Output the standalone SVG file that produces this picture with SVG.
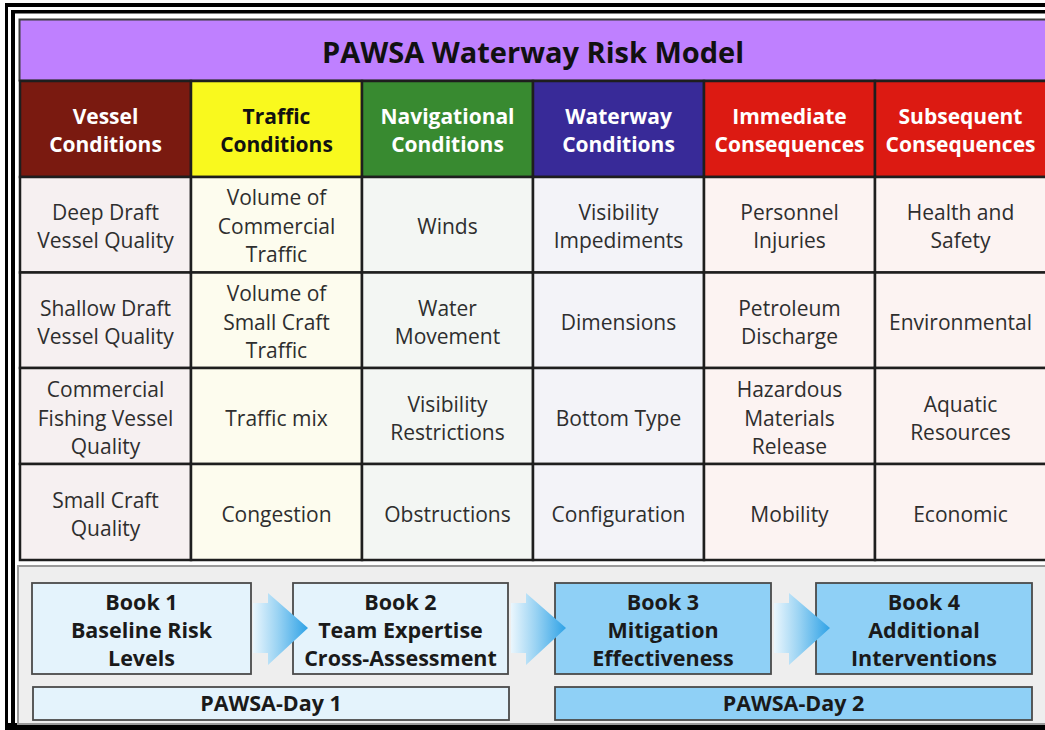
<svg xmlns="http://www.w3.org/2000/svg" width="1045" height="730" viewBox="0 0 1045 730">
<defs>
<linearGradient id="arrowGrad" x1="0" y1="0" x2="1" y2="0">
<stop offset="0" stop-color="#EAF6FD"/>
<stop offset="0.45" stop-color="#9AD3F3"/>
<stop offset="1" stop-color="#2FA2E6"/>
</linearGradient>
<style>
.hdr{stroke:#1E1E1E;stroke-width:2.5}
.cell{stroke:#1E1E1E;stroke-width:2.5}
.ht{font-family:"Open Sans","Liberation Sans",sans-serif;font-weight:bold;font-size:21px;text-anchor:middle;fill:#FFFFFF}
.htd{fill:#111111}
.bt{font-family:"Open Sans","Liberation Sans",sans-serif;font-weight:500;font-size:21px;text-anchor:middle;fill:#2E2E2E}
.book{stroke:#4A4A4A;stroke-width:1.8}
.bk{font-family:"Open Sans","Liberation Sans",sans-serif;font-weight:bold;font-size:21.5px;text-anchor:middle;fill:#1A1A1A}
.light{fill:#E4F3FC}
.blue{fill:#8FD0F6}
</style>
</defs>
<rect x="0" y="0" width="1045" height="730" fill="#FFFFFF"/>
<!-- frame -->
<g id="frame" fill="#000000">
<rect x="5" y="3" width="1040" height="4"/>
<rect x="5" y="3" width="3" height="727"/>
<rect x="11" y="10" width="1034" height="3.5"/>
<rect x="11" y="10" width="4" height="720"/>
<rect x="5" y="723" width="1040" height="7"/>
</g>
<!-- title -->
<g id="title">
<rect x="19.5" y="19.5" width="1030" height="61" fill="#BF80FF" stroke="#3A3A3A" stroke-width="2"/>
<text x="533" y="63" font-family="'Open Sans','Liberation Sans',sans-serif" font-weight="bold" font-size="29" text-anchor="middle" fill="#111111">PAWSA Waterway Risk Model</text>
</g>
<!-- headers -->
<g id="h-vessel"><rect class="hdr" x="20" y="81" width="171" height="96" fill="#7A1A10"/><text class="ht" x="105.5" y="124">Vessel</text><text class="ht" x="105.5" y="152">Conditions</text></g>
<g id="h-traffic"><rect class="hdr" x="191" y="81" width="171" height="96" fill="#F9F91E"/><text class="ht htd" x="276.5" y="124">Traffic</text><text class="ht htd" x="276.5" y="152">Conditions</text></g>
<g id="h-nav"><rect class="hdr" x="362" y="81" width="171" height="96" fill="#388A30"/><text class="ht" x="447.5" y="124">Navigational</text><text class="ht" x="447.5" y="152">Conditions</text></g>
<g id="h-waterway"><rect class="hdr" x="533" y="81" width="171" height="96" fill="#382A98"/><text class="ht" x="618.5" y="124">Waterway</text><text class="ht" x="618.5" y="152">Conditions</text></g>
<g id="h-immediate"><rect class="hdr" x="704" y="81" width="171" height="96" fill="#DC1A12"/><text class="ht" x="789.5" y="124">Immediate</text><text class="ht" x="789.5" y="152">Consequences</text></g>
<g id="h-subsequent"><rect class="hdr" x="875" y="81" width="172" height="96" fill="#DC1A12"/><text class="ht" x="960.5" y="124">Subsequent</text><text class="ht" x="960.5" y="152">Consequences</text></g>
<!-- column 1 -->
<g id="c1r1"><rect class="cell" x="20" y="177" width="171" height="95.5" fill="#F6F0F1"/><text class="bt" x="105.5" y="220">Deep Draft</text><text class="bt" x="105.5" y="248">Vessel Quality</text></g>
<g id="c1r2"><rect class="cell" x="20" y="272.5" width="171" height="95.5" fill="#F6F0F1"/><text class="bt" x="105.5" y="316">Shallow Draft</text><text class="bt" x="105.5" y="344">Vessel Quality</text></g>
<g id="c1r3"><rect class="cell" x="20" y="368" width="171" height="96" fill="#F6F0F1"/><text class="bt" x="105.5" y="397">Commercial</text><text class="bt" x="105.5" y="426">Fishing Vessel</text><text class="bt" x="105.5" y="454">Quality</text></g>
<g id="c1r4"><rect class="cell" x="20" y="464" width="171" height="96" fill="#F6F0F1"/><text class="bt" x="105.5" y="508">Small Craft</text><text class="bt" x="105.5" y="536">Quality</text></g>
<!-- column 2 -->
<g id="c2r1"><rect class="cell" x="191" y="177" width="171" height="95.5" fill="#FDFCEE"/><text class="bt" x="276.5" y="205">Volume of</text><text class="bt" x="276.5" y="234">Commercial</text><text class="bt" x="276.5" y="262">Traffic</text></g>
<g id="c2r2"><rect class="cell" x="191" y="272.5" width="171" height="95.5" fill="#FDFCEE"/><text class="bt" x="276.5" y="301">Volume of</text><text class="bt" x="276.5" y="330">Small Craft</text><text class="bt" x="276.5" y="358">Traffic</text></g>
<g id="c2r3"><rect class="cell" x="191" y="368" width="171" height="96" fill="#FDFCEE"/><text class="bt" x="276.5" y="426">Traffic mix</text></g>
<g id="c2r4"><rect class="cell" x="191" y="464" width="171" height="96" fill="#FDFCEE"/><text class="bt" x="276.5" y="522">Congestion</text></g>
<!-- column 3 -->
<g id="c3r1"><rect class="cell" x="362" y="177" width="171" height="95.5" fill="#F3F6F3"/><text class="bt" x="447.5" y="234">Winds</text></g>
<g id="c3r2"><rect class="cell" x="362" y="272.5" width="171" height="95.5" fill="#F3F6F3"/><text class="bt" x="447.5" y="316">Water</text><text class="bt" x="447.5" y="344">Movement</text></g>
<g id="c3r3"><rect class="cell" x="362" y="368" width="171" height="96" fill="#F3F6F3"/><text class="bt" x="447.5" y="412">Visibility</text><text class="bt" x="447.5" y="440">Restrictions</text></g>
<g id="c3r4"><rect class="cell" x="362" y="464" width="171" height="96" fill="#F3F6F3"/><text class="bt" x="447.5" y="522">Obstructions</text></g>
<!-- column 4 -->
<g id="c4r1"><rect class="cell" x="533" y="177" width="171" height="95.5" fill="#F3F3F8"/><text class="bt" x="618.5" y="220">Visibility</text><text class="bt" x="618.5" y="248">Impediments</text></g>
<g id="c4r2"><rect class="cell" x="533" y="272.5" width="171" height="95.5" fill="#F3F3F8"/><text class="bt" x="618.5" y="330">Dimensions</text></g>
<g id="c4r3"><rect class="cell" x="533" y="368" width="171" height="96" fill="#F3F3F8"/><text class="bt" x="618.5" y="426">Bottom Type</text></g>
<g id="c4r4"><rect class="cell" x="533" y="464" width="171" height="96" fill="#F3F3F8"/><text class="bt" x="618.5" y="522">Configuration</text></g>
<!-- column 5 -->
<g id="c5r1"><rect class="cell" x="704" y="177" width="171" height="95.5" fill="#FCF3F2"/><text class="bt" x="789.5" y="220">Personnel</text><text class="bt" x="789.5" y="248">Injuries</text></g>
<g id="c5r2"><rect class="cell" x="704" y="272.5" width="171" height="95.5" fill="#FCF3F2"/><text class="bt" x="789.5" y="316">Petroleum</text><text class="bt" x="789.5" y="344">Discharge</text></g>
<g id="c5r3"><rect class="cell" x="704" y="368" width="171" height="96" fill="#FCF3F2"/><text class="bt" x="789.5" y="397">Hazardous</text><text class="bt" x="789.5" y="426">Materials</text><text class="bt" x="789.5" y="454">Release</text></g>
<g id="c5r4"><rect class="cell" x="704" y="464" width="171" height="96" fill="#FCF3F2"/><text class="bt" x="789.5" y="522">Mobility</text></g>
<!-- column 6 -->
<g id="c6r1"><rect class="cell" x="875" y="177" width="172" height="95.5" fill="#FCF3F2"/><text class="bt" x="960.5" y="220">Health and</text><text class="bt" x="960.5" y="248">Safety</text></g>
<g id="c6r2"><rect class="cell" x="875" y="272.5" width="172" height="95.5" fill="#FCF3F2"/><text class="bt" x="960.5" y="330">Environmental</text></g>
<g id="c6r3"><rect class="cell" x="875" y="368" width="172" height="96" fill="#FCF3F2"/><text class="bt" x="960.5" y="412">Aquatic</text><text class="bt" x="960.5" y="440">Resources</text></g>
<g id="c6r4"><rect class="cell" x="875" y="464" width="172" height="96" fill="#FCF3F2"/><text class="bt" x="960.5" y="522">Economic</text></g>
<!-- bottom panel -->
<g id="panel">
<rect x="18" y="566" width="1030" height="158" fill="#EEEEEE" stroke="#9A9A9A" stroke-width="2"/>
</g>
<g id="book1"><rect class="book light" x="32" y="583" width="219" height="91"/><text class="bk" x="141.5" y="610">Book 1</text><text class="bk" x="141.5" y="638">Baseline Risk</text><text class="bk" x="141.5" y="666">Levels</text></g>
<g id="book2"><rect class="book light" x="293" y="583" width="215" height="91"/><text class="bk" x="400.5" y="610">Book 2</text><text class="bk" x="400.5" y="638">Team Expertise</text><text class="bk" x="400.5" y="666">Cross-Assessment</text></g>
<g id="book3"><rect class="book blue" x="555" y="583" width="216" height="91"/><text class="bk" x="663" y="610">Book 3</text><text class="bk" x="663" y="638">Mitigation</text><text class="bk" x="663" y="666">Effectiveness</text></g>
<g id="book4"><rect class="book blue" x="816" y="583" width="216" height="91"/><text class="bk" x="924" y="610">Book 4</text><text class="bk" x="924" y="638">Additional</text><text class="bk" x="924" y="666">Interventions</text></g>
<g id="day1"><rect class="book light" x="33" y="687" width="476" height="33"/><text class="bk" x="271" y="711">PAWSA-Day 1</text></g>
<g id="day2"><rect class="book blue" x="555" y="687" width="477" height="33"/><text class="bk" x="793.5" y="711">PAWSA-Day 2</text></g>
<g id="connectors" fill="url(#arrowGrad)">
<polygon points="253,603 268,603 268,593 308,628 268,665 268,653 253,653"/>
<polygon points="511,603 526,603 526,593 566,628 526,665 526,653 511,653"/>
<polygon points="774,603 789,603 789,593 830,628 789,665 789,653 774,653"/>
</g>
</svg>
